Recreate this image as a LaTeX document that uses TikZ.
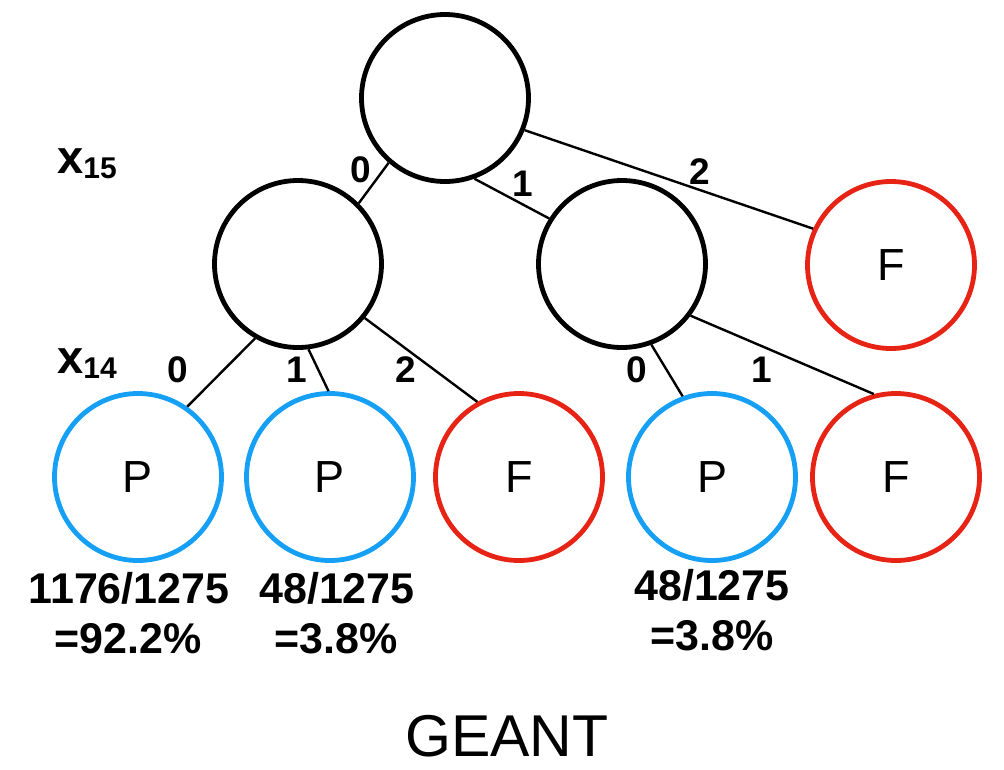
\documentclass[tikz,border=0pt]{standalone}
\usepackage{fontspec}
\setmainfont{Liberation Sans}
\definecolor{passblue}{RGB}{22,160,245}
\definecolor{failred}{RGB}{230,35,20}
\begin{document}
\begin{tikzpicture}[x=1pt,y=-1pt,
  state/.style={circle,draw=black,line width=4.8pt,minimum size=167pt,inner sep=0pt,
    font=\fontsize{45}{45}\selectfont},
  pass/.style={state,draw=passblue},
  fail/.style={state,draw=failred},
  edge/.style={line width=2.4pt},
  branch/.style={anchor=base,font=\fontsize{37}{37}\selectfont\bfseries},
  ratio/.style={anchor=base,font=\fontsize{43}{43}\selectfont\bfseries},
  varname/.style={anchor=base west,inner sep=0pt}]
\useasboundingbox (0,0) rectangle (1004,769);

% decision nodes
\node[state] (root) at (445,98) {};
\node[state] (a) at (298,264) {};
\node[state] (b) at (622,264) {};
\node[fail] (f1) at (891,265) {F};
\node[pass] (p1) at (138,477) {P};
\node[pass] (p2) at (330,477) {P};
\node[fail] (f2) at (519,477) {F};
\node[pass] (p3) at (712,477) {P};
\node[fail] (f3) at (896,477) {F};

% branches
\draw[edge] (root.229) -- (a.45);
\draw[edge] (root.290) -- (b.148);
\draw[edge] (root.338) -- (f1.155);
\draw[edge] (a.240) -- (p1.55);
\draw[edge] (a.277) -- (p2.91);
\draw[edge] (a.321) -- (f2.119);
\draw[edge] (b.290) -- (p3.110);
\draw[edge] (b.323) -- (f3.105);

% branch values
\node[branch] (l0) at (361,182) {0};
\node[branch] (l1) at (523,196) {1};
\node[branch] (l2) at (700,184) {2};
\node[branch] (la0) at (178,382) {0};
\node[branch] (la1) at (297,382) {1};
\node[branch] (la2) at (406,382) {2};
\node[branch] (lb0) at (637,382) {0};
\node[branch] (lb1) at (762,382) {1};

% variable names
\node[varname] (x15) at (57,173) {\fontsize{47}{47}\selectfont\bfseries x\raisebox{-5pt}{\fontsize{30}{30}\selectfont 15}};
\node[varname] (x14) at (57,373) {\fontsize{47}{47}\selectfont\bfseries x\raisebox{-5pt}{\fontsize{30}{30}\selectfont 14}};

% pass probabilities
\node[ratio] (r1a) at (129,603) {1176/1275};
\node[ratio] (r1b) at (128,653) {=92.2\%};
\node[ratio] (r2a) at (337,603) {48/1275};
\node[ratio] (r2b) at (336,653) {=3.8\%};
\node[ratio] (r3a) at (712,600) {48/1275};
\node[ratio] (r3b) at (712,650) {=3.8\%};

% title
\node[anchor=base,font=\fontsize{59}{59}\selectfont] (title) at (507,756) {GEANT};
\end{tikzpicture}
\end{document}
